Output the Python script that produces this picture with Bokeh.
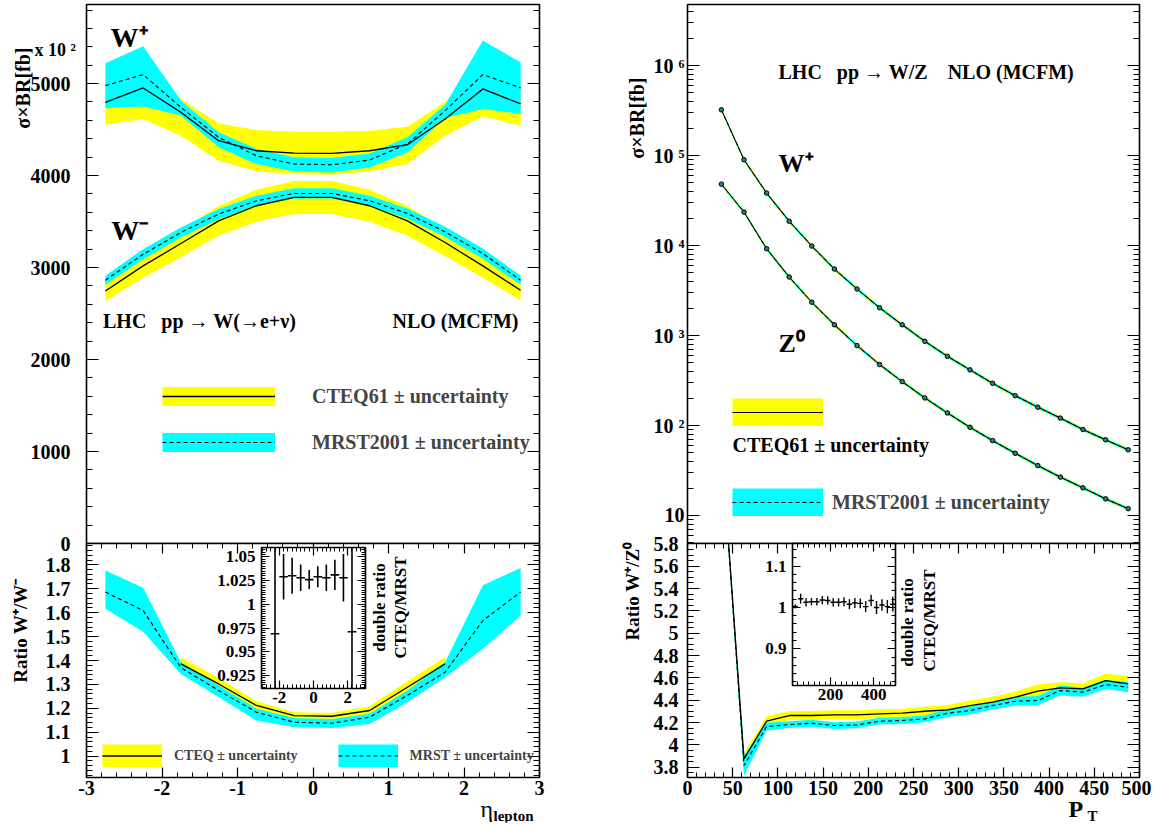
from bokeh.plotting import figure
from bokeh.models import (Range1d, LinearAxis, LogAxis, SingleIntervalTicker, LogTicker,
                          CustomJSTickFormatter, Label, Legend, LegendItem, GridBox)
from bokeh.embed import file_html
from bokeh.resources import INLINE

FONT = "Liberation Serif"
YELLOW = "#ffff00"
CYAN = "#00ffff"
NB = "\u00a0"
NAN = float("nan")

# ---------------- data: left upper (sigma x BR vs eta, in units of 10^2 fb) ----------------
eta = [-2.75, -2.25, -1.75, -1.25, -0.75, -0.25, 0.25, 0.75, 1.25, 1.75, 2.25, 2.75]
wp_cteq = [4797, 4953, 4688, 4379, 4270, 4245, 4241, 4270, 4336, 4615, 4942, 4779]
wp_cteq_lo = [4554, 4615, 4434, 4162, 4045, 4016, 4009, 4045, 4125, 4434, 4641, 4543]
wp_cteq_hi = [5000, 5250, 4833, 4568, 4495, 4477, 4477, 4488, 4532, 4800, 5230, 5000]
wp_mrst = [4978, 5098, 4742, 4416, 4216, 4125, 4118, 4169, 4343, 4706, 5098, 4953]
wp_mrst_lo = [4735, 4750, 4652, 4307, 4125, 4045, 4034, 4089, 4252, 4626, 4724, 4670]
wp_mrst_hi = [5221, 5406, 4815, 4470, 4289, 4198, 4190, 4241, 4416, 4771, 5468, 5232]
wm_cteq = [2746, 3018, 3261, 3508, 3672, 3762, 3762, 3672, 3508, 3272, 3018, 2753]
wm_cteq_unc = [110, 130, 150, 160, 175, 180, 180, 175, 160, 150, 130, 110]
wm_mrst = [2862, 3145, 3381, 3581, 3726, 3806, 3806, 3726, 3588, 3388, 3152, 2862]
wm_mrst_unc = [50, 55, 55, 55, 55, 55, 55, 55, 55, 55, 55, 50]

# ---------------- data: left lower (ratio W+/W-) ----------------
eta_cteq_ratio = [-1.75, -1.25, -0.75, -0.25, 0.25, 0.75, 1.25, 1.75]
ratio_cteq = [1.386, 1.302, 1.212, 1.170, 1.167, 1.191, 1.288, 1.386]
ratio_cteq_unc = [0.028, 0.025, 0.018, 0.014, 0.014, 0.018, 0.025, 0.028]
ratio_mrst = [1.686, 1.609, 1.370, 1.275, 1.184, 1.142, 1.138, 1.163, 1.254, 1.351, 1.567, 1.686]
ratio_mrst_lo = [1.616, 1.520, 1.344, 1.247, 1.149, 1.121, 1.118, 1.135, 1.226, 1.330, 1.449, 1.588]
ratio_mrst_hi = [1.776, 1.704, 1.393, 1.295, 1.198, 1.160, 1.156, 1.177, 1.275, 1.393, 1.714, 1.787]

# inset: double ratio CTEQ/MRST vs eta
dr_eta = [-2.25, -1.75, -1.25, -0.75, -0.25, 0.25, 0.75, 1.25, 1.75, 2.25]
dr_eta_halfbin = 0.25
dr_eta_val = [0.969, 1.029, 1.030, 1.028, 1.026, 1.029, 1.028, 1.031, 1.028, 0.971]
dr_eta_err = [0.2, 0.024, 0.019, 0.014, 0.010, 0.011, 0.014, 0.016, 0.025, 0.2]

# ---------------- data: right upper (sigma x BR vs pT, fb) ----------------
pt = [37.5, 62.5, 87.5, 112.5, 137.5, 162.5, 187.5, 212.5, 237.5, 262.5,
      287.5, 312.5, 337.5, 362.5, 387.5, 412.5, 437.5, 462.5, 487.5]
wplus = [3.24e5, 9.03e4, 3.84e4, 1.87e4, 9.9e3, 5.5e3, 3.3e3, 2.04e3, 1.32e3, 865,
         589, 416, 295, 215, 160, 121, 90.3, 69.4, 53.7]
z0 = [4.83e4, 2.36e4, 9.25e3, 4.48e3, 2.35e3, 1.32e3, 774, 477, 308, 203,
      138, 95.7, 68, 49.2, 35.9, 26.7, 20.3, 15.3, 11.9]
cteq_rel_unc = [0.05, 0.05, 0.05, 0.05, 0.05, 0.05, 0.05, 0.05, 0.05, 0.05,
                0.05, 0.05, 0.05, 0.05, 0.05, 0.05, 0.05, 0.05, 0.05]
mrst_rel_unc = [0.035, 0.035, 0.035, 0.035, 0.035, 0.035, 0.035, 0.035, 0.035, 0.035,
                0.035, 0.035, 0.035, 0.035, 0.035, 0.035, 0.035, 0.035, 0.035]

# ---------------- data: right lower (ratio W+/Z0) ----------------
r_cteq = [6.70, 3.875, 4.212, 4.263, 4.263, 4.269, 4.269, 4.278, 4.284, 4.301,
          4.313, 4.352, 4.382, 4.427, 4.481, 4.510, 4.501, 4.576, 4.546]
r_cteq_unc = [0.06, 0.05, 0.045, 0.04, 0.04, 0.04, 0.04, 0.04, 0.04, 0.04,
              0.045, 0.045, 0.05, 0.05, 0.06, 0.05, 0.05, 0.06, 0.07]
r_mrst = [6.70, 3.815, 4.164, 4.182, 4.194, 4.173, 4.179, 4.212, 4.218, 4.233,
          4.284, 4.307, 4.352, 4.391, 4.397, 4.487, 4.472, 4.540, 4.516]
r_mrst_unc = [0.05, 0.09, 0.035, 0.03, 0.03, 0.03, 0.03, 0.03, 0.03, 0.03,
              0.035, 0.035, 0.035, 0.04, 0.04, 0.045, 0.04, 0.04, 0.045]

# inset: double ratio CTEQ/MRST vs pT
dr_pt_halfbin = 12.5
dr_pt_val = [1.0025, 1.021, 1.0125, 1.014, 1.014, 1.018, 1.017, 1.0125, 1.0125, 1.014,
             1.008, 1.011, 1.010, 1.002, 1.017, 1.000, 1.006, 1.002, 1.008]
dr_pt_err = [0.005, 0.012, 0.010, 0.009, 0.009, 0.010, 0.010, 0.010, 0.010, 0.011,
             0.012, 0.012, 0.012, 0.013, 0.014, 0.016, 0.014, 0.016, 0.018]


def minus(a, b):
    return [x - y for x, y in zip(a, b)]


def plus(a, b):
    return [x + y for x, y in zip(a, b)]


def scale(a, f, sign):
    return [x * (1 + sign * u) for x, u in zip(a, f)]


# identical borders for every panel, so the grid does not re-align frames
BL, BR, BT, BB = 70, 12, 12, 30


# ---------------- helpers ----------------
def fmt_num():
    return CustomJSTickFormatter(code="return String(parseFloat(tick.toFixed(4)));")


def fmt_empty():
    return CustomJSTickFormatter(code="return '';")


def setup_axis(ax, ticker, major_in, minor_in, size="20px", standoff=0, labels=True, formatter=None):
    ax.ticker = ticker
    ax.axis_line_color = None
    ax.major_tick_in = major_in
    ax.major_tick_out = 0
    ax.minor_tick_in = minor_in
    ax.minor_tick_out = 0
    ax.major_tick_line_color = "black"
    ax.minor_tick_line_color = "black"
    ax.major_tick_line_width = 1.2
    ax.minor_tick_line_width = 1
    if labels:
        ax.formatter = formatter if formatter is not None else fmt_num()
        ax.major_label_text_font = FONT
        ax.major_label_text_font_style = "bold"
        ax.major_label_text_font_size = size
        ax.major_label_text_color = "black"
        ax.major_label_standoff = standoff
    else:
        ax.formatter = fmt_empty()
        ax.major_label_text_font_size = "0px"
        ax.major_label_standoff = 0


def base_fig(xr, yr, fw, fh, frame_pos, ylog=False, xaxis=True, yaxis=True, transparent=True,
             outline=True):
    p = figure(x_range=Range1d(*xr), y_range=Range1d(*yr), frame_width=fw, frame_height=fh,
               min_border_left=BL, min_border_right=BR, min_border_top=BT, min_border_bottom=BB,
               y_axis_type="log" if ylog else "linear",
               x_axis_location="below" if xaxis else None,
               y_axis_location="left" if yaxis else None,
               output_backend="svg", toolbar_location=None)
    p.grid.visible = False
    if outline:
        p.outline_line_color = "black"
        p.outline_line_width = 1.6
        p.background_fill_color = "white"
    else:
        p.outline_line_color = None
        p.background_fill_alpha = 0
    if transparent:
        p.border_fill_alpha = 0
    else:
        p.border_fill_color = "white"
    p.margin = (frame_pos[1] - BT, 0, 0, frame_pos[0] - BL)
    return p


def overlay(x0, x1, y0, y1):
    # transparent text holder whose data coordinates are page pixels (y downwards)
    return base_fig((x0, x1), (y1, y0), x1 - x0, y1 - y0, (x0, y0),
                    xaxis=False, yaxis=False, outline=False)


def txt(p, x, y, s, size, align="left", baseline="alphabetic", angle=0, bold=True):
    p.add_layout(Label(x=x, y=y, text=s, text_font=FONT, text_font_size=size,
                       text_font_style="bold" if bold else "normal", text_align=align,
                       text_baseline=baseline, angle=angle, angle_units="deg",
                       text_color="black"))


def legend(items, loc, gw, gh, standoff, spacing, size, orientation="vertical"):
    return Legend(items=items, location=loc, orientation=orientation,
                  glyph_width=gw, glyph_height=gh, label_standoff=standoff, spacing=spacing,
                  padding=0, margin=0, border_line_alpha=0, background_fill_alpha=0,
                  label_text_font=FONT, label_text_font_style="bold",
                  label_text_font_size=size, label_height=gh)


def swatch(p, color, width, dash="solid"):
    # legend swatch only: a single NaN point, nothing is drawn in the plot
    return p.line(x=[NAN], y=[NAN], line_color=color, line_width=width, line_dash=dash)


# ================= LEFT UPPER =================
lu = base_fig((-3, 3), (0, 5860), 453, 539, (86, 4), xaxis=False, transparent=False)
t = SingleIntervalTicker(interval=1000, num_minor_ticks=5)
setup_axis(lu.left[0], t, 12, 6, standoff=16)
ax = LinearAxis()
setup_axis(ax, t, 12, 6, labels=False)
lu.add_layout(ax, "right")

lu.varea(x=eta, y1=wp_cteq_lo, y2=wp_cteq_hi, fill_color=YELLOW)
lu.varea(x=eta, y1=minus(wm_cteq, wm_cteq_unc), y2=plus(wm_cteq, wm_cteq_unc), fill_color=YELLOW)
lu.varea(x=eta, y1=wp_mrst_lo, y2=wp_mrst_hi, fill_color=CYAN)
lu.varea(x=eta, y1=minus(wm_mrst, wm_mrst_unc), y2=plus(wm_mrst, wm_mrst_unc), fill_color=CYAN)
ly1 = lu.line(eta, wp_cteq, line_color="black", line_width=1.3)
lu.line(eta, wm_cteq, line_color="black", line_width=1.3)
lc1 = lu.line(eta, wp_mrst, line_color="black", line_width=1.1, line_dash="4 3")
lu.line(eta, wm_mrst, line_color="black", line_width=1.1, line_dash="4 3")

sy1 = swatch(lu, YELLOW, 19)
sc1 = swatch(lu, CYAN, 19)
lu.add_layout(legend([LegendItem(label="CTEQ61 \u00b1 uncertainty", renderers=[sy1, ly1]),
                      LegendItem(label="MRST2001 \u00b1 uncertainty", renderers=[sc1, lc1])],
                     (76, 89), 113, 24, 37, 22, "20px"))

txt(lu, -2.682, 5504, "W\u207a", "28px")
txt(lu, -2.673, 3403, "W\u207b", "28px")
txt(lu, -2.781, 2424, "LHC" + NB * 3 + "pp \u2192 W(\u2192e+\u03bd)", "20px")
txt(lu, 2.722, 2424, "NLO (MCFM)", "20px", align="right")

# ================= RIGHT UPPER =================
ru = base_fig((0, 500), (4.88, 4.8e6), 452, 539, (687, 4), ylog=True, xaxis=False,
              transparent=False)
log_fmt = CustomJSTickFormatter(code="""
const e = Math.round(Math.log10(tick));
const sup = {2: '\u00b2', 3: '\u00b3', 4: '\u2074', 5: '\u2075', 6: '\u2076'};
if (e == 1) { return '10'; }
return '10 ' + (sup[e] || String(e));
""")
tl = LogTicker(num_minor_ticks=10)
setup_axis(ru.left[0], tl, 12, 6, standoff=3, formatter=log_fmt)
ax = LogAxis()
setup_axis(ax, tl, 12, 6, labels=False)
ru.add_layout(ax, "right")

ru.varea(x=pt, y1=scale(wplus, cteq_rel_unc, -1), y2=scale(wplus, cteq_rel_unc, 1), fill_color=YELLOW)
ru.varea(x=pt, y1=scale(z0, cteq_rel_unc, -1), y2=scale(z0, cteq_rel_unc, 1), fill_color=YELLOW)
ru.varea(x=pt, y1=scale(wplus, mrst_rel_unc, -1), y2=scale(wplus, mrst_rel_unc, 1), fill_color=CYAN)
ru.varea(x=pt, y1=scale(z0, mrst_rel_unc, -1), y2=scale(z0, mrst_rel_unc, 1), fill_color=CYAN)
ly3 = ru.line(pt, wplus, line_color="black", line_width=1.0)
ru.line(pt, z0, line_color="black", line_width=1.0)
lc3 = ru.line(pt, wplus, line_color="black", line_width=1.0, line_dash="4 3")
ru.line(pt, z0, line_color="black", line_width=1.0, line_dash="4 3")
ru.scatter(pt, wplus, size=4.5, marker="circle", fill_color="#2a8080", line_color="black", line_width=1)
ru.scatter(pt, z0, size=4.5, marker="circle", fill_color="#2a8080", line_color="black", line_width=1)

sy3 = swatch(ru, YELLOW, 28)
sc3 = swatch(ru, CYAN, 28)
ru.add_layout(legend([LegendItem(label=" ", renderers=[sy3, ly3])], (45, 117), 91, 28, 5, 0, "20px"))
ru.add_layout(legend([LegendItem(label="MRST2001 \u00b1 uncertainty", renderers=[sc3, lc3])],
                     (45, 27), 91, 28, 9, 0, "20px"))
txt(ru, 49.8, 60, "CTEQ61 \u00b1 uncertainty", "20px")

txt(ru, 100.7, 8.49e5, "LHC" + NB * 3 + "pp \u2192 W/Z" + NB * 4 + "NLO (MCFM)", "20px")
txt(ru, 100.7, 8.13e4, "W\u207a", "26px")
txt(ru, 100.7, 811, "Z\u2070", "26px")

# ================= LEFT LOWER =================
ll = base_fig((-3, 3), (0.911, 1.889), 453, 234, (86, 543))
ty = SingleIntervalTicker(interval=0.1, num_minor_ticks=5)
tx = SingleIntervalTicker(interval=1, num_minor_ticks=5)
setup_axis(ll.left[0], ty, 12, 6, standoff=16)
setup_axis(ll.below[0], tx, 10, 5, standoff=3)
ax = LinearAxis()
setup_axis(ax, ty, 12, 6, labels=False)
ll.add_layout(ax, "right")
ax = LinearAxis()
setup_axis(ax, tx, 10, 5, labels=False)
ll.add_layout(ax, "above")

ll.varea(x=eta_cteq_ratio, y1=minus(ratio_cteq, ratio_cteq_unc),
         y2=plus(ratio_cteq, ratio_cteq_unc), fill_color=YELLOW)
ll.varea(x=eta, y1=ratio_mrst_lo, y2=ratio_mrst_hi, fill_color=CYAN)
ly2 = ll.line(eta_cteq_ratio, ratio_cteq, line_color="black", line_width=1.3)
lc2 = ll.line(eta, ratio_mrst, line_color="black", line_width=1.1, line_dash="4 3")

sy2 = swatch(ll, YELLOW, 23)
sc2 = swatch(ll, CYAN, 23)
ll.add_layout(legend([LegendItem(label="CTEQ \u00b1 uncertainty", renderers=[sy2, ly2]),
                      LegendItem(label="MRST \u00b1 uncertainty", renderers=[sc2, lc2])],
                     (16, 10), 60, 23, 12, 40, "14px", orientation="horizontal"))

# ================= RIGHT LOWER =================
rl = base_fig((0, 500), (3.708, 5.803), 452, 234, (687, 543))
ty = SingleIntervalTicker(interval=0.2, num_minor_ticks=4)
tx = SingleIntervalTicker(interval=50, num_minor_ticks=5)
setup_axis(rl.left[0], ty, 12, 6, standoff=9)
setup_axis(rl.below[0], tx, 10, 5, standoff=3)
ax = LinearAxis()
setup_axis(ax, ty, 12, 6, labels=False)
rl.add_layout(ax, "right")
ax = LinearAxis()
setup_axis(ax, tx, 10, 5, labels=False)
rl.add_layout(ax, "above")

rl.varea(x=pt, y1=minus(r_cteq, r_cteq_unc), y2=plus(r_cteq, r_cteq_unc), fill_color=YELLOW)
rl.varea(x=pt, y1=minus(r_mrst, r_mrst_unc), y2=plus(r_mrst, r_mrst_unc), fill_color=CYAN)
rl.line(pt, r_cteq, line_color="black", line_width=1.3)
rl.line(pt, r_mrst, line_color="black", line_width=1.1, line_dash="4 3")

# ================= LEFT INSET =================
li = base_fig((-3.04, 3.04), (0.9113, 1.0598), 104, 141, (261, 547))
ty = SingleIntervalTicker(interval=0.025, num_minor_ticks=10)
tx = SingleIntervalTicker(interval=2, num_minor_ticks=8)
setup_axis(li.left[0], ty, 8, 4, size="17px", standoff=6)
setup_axis(li.below[0], tx, 8, 4, size="17px", standoff=3)
ax = LinearAxis()
setup_axis(ax, ty, 8, 4, labels=False)
li.add_layout(ax, "right")
ax = LinearAxis()
setup_axis(ax, tx, 8, 4, labels=False)
li.add_layout(ax, "above")
li.segment(x0=dr_eta, y0=minus(dr_eta_val, dr_eta_err), x1=dr_eta, y1=plus(dr_eta_val, dr_eta_err),
           line_color="black", line_width=1.6)
li.segment(x0=[x - dr_eta_halfbin for x in dr_eta], y0=dr_eta_val,
           x1=[x + dr_eta_halfbin for x in dr_eta], y1=dr_eta_val,
           line_color="black", line_width=1.6)

# ================= RIGHT INSET =================
ri = base_fig((25, 500), (0.811, 1.155), 103, 142, (792, 543))
ty = SingleIntervalTicker(interval=0.1, num_minor_ticks=5)
tx = SingleIntervalTicker(interval=200, num_minor_ticks=8)
setup_axis(ri.left[0], ty, 8, 4, size="17px", standoff=6)
setup_axis(ri.below[0], tx, 8, 4, size="17px", standoff=3)
ax = LinearAxis()
setup_axis(ax, ty, 8, 4, labels=False)
ri.add_layout(ax, "right")
ax = LinearAxis()
setup_axis(ax, tx, 8, 4, labels=False)
ri.add_layout(ax, "above")
ri.segment(x0=pt, y0=minus(dr_pt_val, dr_pt_err), x1=pt, y1=plus(dr_pt_val, dr_pt_err),
           line_color="black", line_width=1.4)
ri.segment(x0=[x - dr_pt_halfbin for x in pt], y0=dr_pt_val,
           x1=[x + dr_pt_halfbin for x in pt], y1=dr_pt_val,
           line_color="black", line_width=1.4)

# ================= AXIS TITLES (small transparent holders, page-pixel coordinates) =================
ova = overlay(0, 86, 0, 140)
txt(ova, 22, 47, "\u03c3\u00d7BR[fb]", "20px", align="right", baseline="middle", angle=90)
txt(ova, 34, 49, "x 10 \u00b2", "18px")

ovb = overlay(0, 40, 560, 700)
txt(ovb, 20, 630, "Ratio W\u207a/W\u207b", "19px", align="center", baseline="middle", angle=90)

ovc = overlay(470, 545, 785, 822)
txt(ovc, 480, 808, "\u03b7", "24px", bold=False)
txt(ovc, 493, 815, "lepton", "15px")

ovd = overlay(610, 670, 60, 175)
txt(ovd, 636, 77, "\u03c3\u00d7BR[fb]", "20px", align="right", baseline="middle", angle=90)

ove = overlay(612, 652, 530, 665)
txt(ove, 632, 541, "Ratio W\u207a/Z\u2070", "19px", align="right", baseline="middle", angle=90)

ovf = overlay(1060, 1105, 785, 822)
txt(ovf, 1068, 808, "P", "24px")
txt(ovf, 1087, 815, "T", "15px")

ovg = overlay(366, 414, 545, 672)
txt(ovg, 379, 607, "double ratio", "17px", align="center", baseline="middle", angle=90)
txt(ovg, 400, 607, "CTEQ/MRST", "17px", align="center", baseline="middle", angle=90)

ovh = overlay(896, 944, 560, 685)
txt(ovh, 907, 622, "double ratio", "17px", align="center", baseline="middle", angle=90)
txt(ovh, 929, 620, "CTEQ/MRST", "17px", align="center", baseline="middle", angle=90)

# ================= LAYOUT: every panel placed in one grid cell by its margin =================
panels = [lu, ru, ll, rl, li, ri, ova, ovb, ovc, ovd, ove, ovf, ovg, ovh]
root = GridBox(children=[(p, 0, 0) for p in panels])

open("out.html", "w").write(file_html(root, INLINE))
